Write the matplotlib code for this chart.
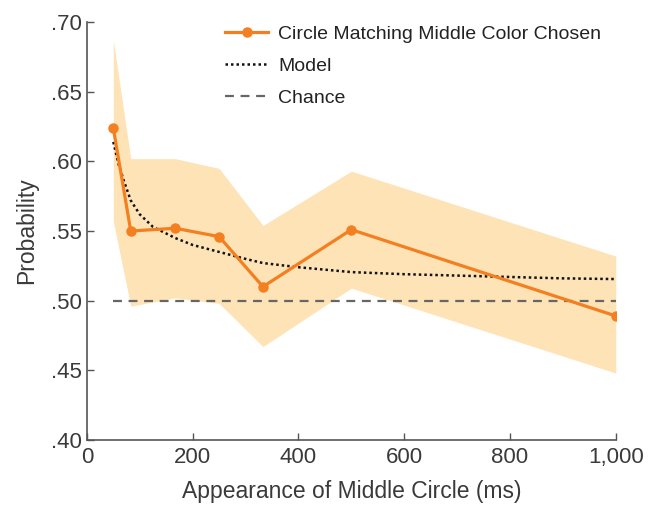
import numpy as np
import matplotlib
matplotlib.use("Agg")
import matplotlib.pyplot as plt

plt.rcParams['font.family'] = ['Liberation Sans', 'DejaVu Sans']

# observed data
delay = [50, 83, 167, 250, 333, 500, 1000]
prob = [0.624, 0.550, 0.552, 0.546, 0.510, 0.551, 0.489]
ci_hi = [0.687, 0.602, 0.602, 0.595, 0.554, 0.593, 0.532]
ci_lo = [0.557, 0.496, 0.502, 0.498, 0.467, 0.509, 0.448]

model_x = [50, 60, 70, 83, 100, 125, 167, 200, 250, 300, 333, 400, 500, 600, 700, 800, 900, 1000]
model_y = [0.614, 0.598, 0.586, 0.572, 0.562, 0.553, 0.545, 0.540, 0.535, 0.530, 0.527,
           0.524, 0.5205, 0.519, 0.518, 0.517, 0.516, 0.5155]

chance_x = [50, 1000]
chance_y = [0.5, 0.5]

yticks = [0.40, 0.45, 0.50, 0.55, 0.60, 0.65, 0.70]
ytick_labels = ['.40', '.45', '.50', '.55', '.60', '.65', '.70']
xticks = [0, 200, 400, 600, 800, 1000]
xtick_labels = ['0', '200', '400', '600', '800', '1,000']

grey = '#555555'
orange = '#F47F20'

fig = plt.figure(figsize=(6.53, 5.05), dpi=100)
ax = fig.add_axes([0.133, 0.129, 0.810, 0.827])

ax.fill_between(delay, ci_lo, ci_hi, color='#FDE3B6', lw=0)
ax.plot(chance_x, chance_y, ls=(0, (4, 3)), color='#666666', lw=1.6, label='Chance')
ax.plot(model_x, model_y, ls=(0, (1, 1.2)), color='#111111', lw=1.8, label='Model')
ax.plot(delay, prob, color=orange, lw=2.3, marker='o', ms=6.5,
        label='Circle Matching Middle Color Chosen')

ax.set_xlim(0, 1000)
ax.set_ylim(0.40, 0.70)
ax.set_xticks(xticks)
ax.set_xticklabels(xtick_labels)
ax.set_yticks(yticks)
ax.set_yticklabels(ytick_labels)

for s in ['top', 'right']:
    ax.spines[s].set_visible(False)
for s in ['left', 'bottom']:
    ax.spines[s].set_color(grey)
    ax.spines[s].set_linewidth(1.2)
ax.tick_params(direction='in', length=5, width=1, colors=grey, labelsize=16,
               labelcolor='#3a3a3a')
ax.tick_params(axis='x', pad=5)

ax.set_xlabel('Appearance of Middle Circle (ms)', fontsize=16.5, color='#3a3a3a',
              labelpad=9)
ax.set_ylabel('Probability', fontsize=16.5, color='#3a3a3a', labelpad=9)

h, l = ax.get_legend_handles_labels()
ax.legend(h[::-1], l[::-1], loc='upper right', bbox_to_anchor=(1.005, 1.035),
          frameon=False, fontsize=14, handlelength=2.2, labelspacing=0.75,
          handletextpad=0.5, labelcolor='#222222')

fig.savefig('out.png', dpi=100)
